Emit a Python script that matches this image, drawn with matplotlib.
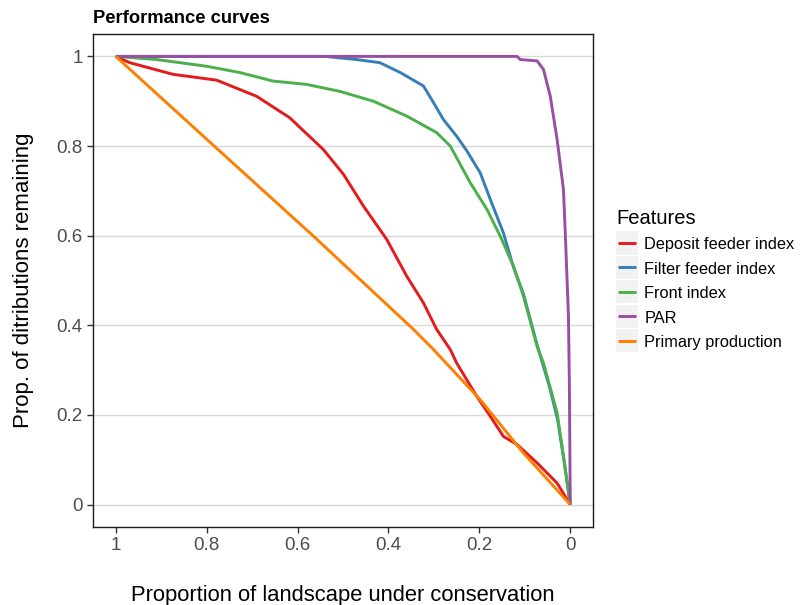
import matplotlib
matplotlib.use("Agg")
import matplotlib.pyplot as plt
from matplotlib.legend_handler import HandlerLine2D
from matplotlib.lines import Line2D
from matplotlib.patches import Rectangle

plt.rcParams['font.family'] = ['Liberation Sans', 'DejaVu Sans']

# Performance curves: proportion of landscape kept vs. proportion of distributions remaining
deposit_x = [1.0, 0.969, 0.874, 0.778, 0.690, 0.617, 0.543, 0.499, 0.455, 0.404,
             0.360, 0.323, 0.294, 0.264, 0.250, 0.206, 0.176, 0.147, 0.117, 0.073,
             0.029, 0.0]
deposit_y = [1.0, 0.986, 0.960, 0.947, 0.911, 0.863, 0.792, 0.737, 0.666, 0.592,
             0.510, 0.450, 0.391, 0.346, 0.316, 0.242, 0.197, 0.152, 0.134, 0.093,
             0.048, 0.0]

filter_x = [1.0, 0.54, 0.47, 0.419, 0.374, 0.323, 0.301, 0.279, 0.250, 0.228,
            0.198, 0.176, 0.147, 0.125, 0.103, 0.074, 0.045, 0.028, 0.014, 0.0]
filter_y = [1.0, 1.0, 0.993, 0.986, 0.964, 0.934, 0.897, 0.859, 0.822, 0.790,
            0.740, 0.681, 0.606, 0.530, 0.470, 0.360, 0.260, 0.190, 0.100, 0.0]

front_x = [1.0, 0.910, 0.800, 0.727, 0.654, 0.580, 0.507, 0.433, 0.360, 0.294,
           0.264, 0.250, 0.220, 0.183, 0.154, 0.125, 0.103, 0.073, 0.059, 0.029,
           0.015, 0.0]
front_y = [1.0, 0.993, 0.978, 0.964, 0.945, 0.9375, 0.922, 0.900, 0.867, 0.830,
           0.800, 0.774, 0.718, 0.658, 0.599, 0.532, 0.465, 0.353, 0.316, 0.205,
           0.108, 0.0]

par_x = [1.0, 0.117, 0.110, 0.073, 0.059, 0.044, 0.029, 0.015, 0.011, 0.004,
         0.002, 0.0]
par_y = [1.0, 1.0, 0.993, 0.990, 0.971, 0.911, 0.815, 0.703, 0.606, 0.420,
         0.270, 0.0]

primary_x = [1.0, 0.778, 0.565, 0.345, 0.301, 0.198, 0.103, 0.0]
primary_y = [1.0, 0.795, 0.599, 0.391, 0.346, 0.234, 0.115, 0.0]

series = [
    ("Deposit feeder index", deposit_x, deposit_y, "#E41A1C"),
    ("Filter feeder index", filter_x, filter_y, "#377EB8"),
    ("Front index", front_x, front_y, "#4DAF4A"),
    ("PAR", par_x, par_y, "#984EA3"),
    ("Primary production", primary_x, primary_y, "#FF7F00"),
]

x_ticks = [1.0, 0.8, 0.6, 0.4, 0.2, 0.0]
x_tick_labels = ["1", "0.8", "0.6", "0.4", "0.2", "0"]
y_ticks = [0.0, 0.2, 0.4, 0.6, 0.8, 1.0]
y_tick_labels = ["0", "0.2", "0.4", "0.6", "0.8", "1"]

KEY_W = 15.8   # key box width, points
KEY_H = 16.6   # key box height, points


class KeyHandler(HandlerLine2D):
    """Legend key: short line on a light grey square."""
    def create_artists(self, legend, orig_handle, xdescent, ydescent,
                       width, height, fontsize, trans):
        yc = (height - ydescent) / 2
        x0 = -xdescent
        bg = Rectangle((x0, yc - KEY_H / 2), KEY_W, KEY_H,
                       facecolor="#F2F2F2", edgecolor="none", transform=trans)
        ln = Line2D([x0 + 1.6, x0 + KEY_W - 1.6], [yc, yc],
                    color=orig_handle.get_color(),
                    lw=orig_handle.get_linewidth(), solid_capstyle="butt",
                    transform=trans)
        return [bg, ln]


fig = plt.figure(figsize=(8.0, 6.05), dpi=100)
ax = fig.add_axes([93 / 800, 78 / 605, 500 / 800, 493 / 605])

for name, xs, ys, col in series:
    ax.plot(xs, ys, color=col, lw=2.1, label=name, solid_capstyle="butt")

ax.set_xlim(1.05, -0.05)
ax.set_ylim(-0.05, 1.05)
ax.set_xticks(x_ticks)
ax.set_xticklabels(x_tick_labels)
ax.set_yticks(y_ticks)
ax.set_yticklabels(y_tick_labels)
ax.tick_params(axis="both", labelsize=13.5, colors="#333333", labelcolor="#4D4D4D",
               length=4.5, width=1, direction="out", pad=3)
ax.yaxis.grid(True, color="#D9D9D9", lw=1)
ax.xaxis.grid(False)
ax.set_axisbelow(True)
for sp in ax.spines.values():
    sp.set_color("#1A1A1A")
    sp.set_linewidth(1.0)

ax.set_xlabel("Proportion of landscape under conservation", fontsize=15.8,
              labelpad=22, color="black")
ax.set_ylabel("Prop. of ditributions remaining", fontsize=16, labelpad=16,
              color="black")
ax.set_title("Performance curves", fontsize=13.2, fontweight="bold", loc="left",
             pad=8)

leg = ax.legend(loc="upper left", bbox_to_anchor=(616 / 800, 1 - 209 / 605),
                bbox_transform=fig.transFigure, frameon=False, fontsize=11.8,
                title="Features", title_fontsize=14.5, alignment="left",
                handlelength=KEY_W / 11.8, handleheight=1.0, labelspacing=0.52,
                handletextpad=0.4, borderpad=0.0, borderaxespad=0.0,
                handler_map={Line2D: KeyHandler()})

fig.savefig("out.png", dpi=100)
